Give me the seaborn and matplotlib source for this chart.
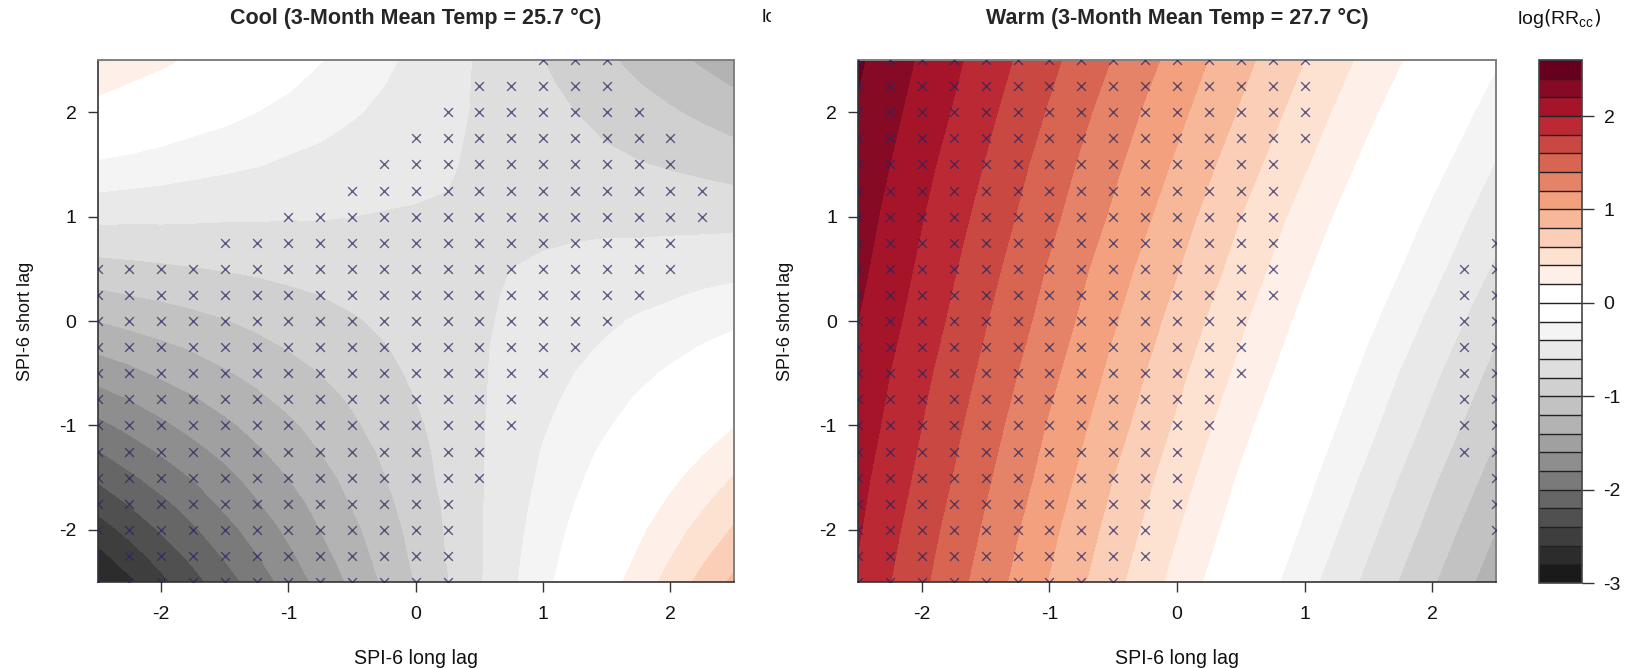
import numpy as np
import pandas as pd
import seaborn as sns
import matplotlib.pyplot as plt
from matplotlib.transforms import Bbox

# SPI-6 axes of the two value tables
cool_axis = [-2.5,-2.25,-2,-1.75,-1.5,-1.25,-1,-0.75,-0.5,-0.25,0,0.25,0.5,0.75,1,1.25,1.5,1.75,2,2.25,2.5]
warm_axis = [-2.5,-2,-1.5,-1,-0.5,0,0.5,1,1.5,2,2.5]

# log(RRcc), rows go from short lag -2.5 up to 2.5
cool_values = [
	[-2.82,-2.64,-2.45,-2.27,-2.09,-1.91,-1.72,-1.54,-1.36,-1.17,-.99,-.81,-.62,-.44,-.26,-.08,.11,.29,.47,.66,.84],
	[-2.66,-2.49,-2.32,-2.15,-1.98,-1.81,-1.64,-1.47,-1.30,-1.13,-.96,-.79,-.62,-.45,-.29,-.12,.05,.22,.39,.56,.73],
	[-2.50,-2.34,-2.18,-2.03,-1.87,-1.72,-1.56,-1.40,-1.25,-1.09,-.94,-.78,-.62,-.47,-.31,-.16,0,.16,.31,.47,.62],
	[-2.33,-2.19,-2.05,-1.91,-1.76,-1.62,-1.48,-1.34,-1.19,-1.05,-.91,-.77,-.62,-.48,-.34,-.20,-.05,.09,.23,.37,.52],
	[-2.17,-2.04,-1.91,-1.79,-1.66,-1.53,-1.40,-1.27,-1.14,-1.01,-.88,-.75,-.62,-.49,-.37,-.24,-.11,.02,.15,.28,.41],
	[-2.01,-1.89,-1.78,-1.66,-1.55,-1.43,-1.32,-1.20,-1.09,-.97,-.86,-.74,-.62,-.51,-.39,-.28,-.16,-.05,.07,.18,.30],
	[-1.85,-1.75,-1.64,-1.54,-1.44,-1.34,-1.24,-1.13,-1.03,-.93,-.83,-.73,-.62,-.52,-.42,-.32,-.22,-.11,-.01,.09,.19],
	[-1.69,-1.60,-1.51,-1.42,-1.33,-1.24,-1.15,-1.07,-.98,-.89,-.80,-.71,-.62,-.54,-.45,-.36,-.27,-.18,-.09,0,.08],
	[-1.52,-1.45,-1.37,-1.30,-1.22,-1.15,-1.07,-1.00,-.92,-.85,-.77,-.70,-.62,-.55,-.47,-.40,-.32,-.25,-.17,-.10,-.02],
	[-1.36,-1.30,-1.24,-1.18,-1.12,-1.05,-.99,-.93,-.87,-.81,-.75,-.69,-.62,-.56,-.50,-.44,-.38,-.32,-.26,-.19,-.13],
	[-1.20,-1.15,-1.10,-1.06,-1.01,-.96,-.91,-.86,-.82,-.77,-.72,-.67,-.62,-.58,-.53,-.48,-.43,-.38,-.34,-.29,-.24],
	[-1.04,-1.00,-.97,-.93,-.90,-.87,-.83,-.80,-.76,-.73,-.69,-.66,-.62,-.59,-.56,-.52,-.49,-.45,-.42,-.38,-.35],
	[-.88,-.85,-.83,-.81,-.79,-.77,-.75,-.73,-.71,-.69,-.67,-.65,-.62,-.60,-.58,-.56,-.54,-.52,-.50,-.48,-.46],
	[-.71,-.71,-.70,-.69,-.68,-.68,-.67,-.66,-.65,-.65,-.64,-.63,-.62,-.62,-.61,-.60,-.59,-.59,-.58,-.57,-.56],
	[-.55,-.56,-.56,-.57,-.58,-.58,-.59,-.59,-.60,-.61,-.61,-.62,-.62,-.63,-.64,-.64,-.65,-.65,-.66,-.67,-.67],
	[-.39,-.41,-.43,-.45,-.47,-.49,-.51,-.53,-.55,-.57,-.59,-.60,-.62,-.64,-.66,-.68,-.70,-.72,-.74,-.76,-.78],
	[-.23,-.26,-.29,-.33,-.36,-.39,-.43,-.46,-.49,-.52,-.56,-.59,-.62,-.66,-.69,-.72,-.76,-.79,-.82,-.85,-.89],
	[-.07,-.11,-.16,-.21,-.25,-.30,-.35,-.39,-.44,-.48,-.53,-.58,-.62,-.67,-.72,-.76,-.81,-.86,-.90,-.95,-1.00],
	[.10,.04,-.02,-.08,-.14,-.20,-.26,-.32,-.38,-.44,-.50,-.56,-.62,-.68,-.74,-.80,-.86,-.92,-.98,-1.04,-1.10],
	[.26,.18,.11,.04,-.04,-.11,-.18,-.26,-.33,-.40,-.48,-.55,-.62,-.70,-.77,-.84,-.92,-.99,-1.06,-1.14,-1.21],
	[.42,.33,.25,.16,.07,-.02,-.10,-.19,-.28,-.36,-.45,-.54,-.62,-.71,-.80,-.89,-.97,-1.06,-1.15,-1.23,-1.32],
]
warm_values = [
	[1.97,1.64,1.31,.99,.66,.33,0,-.33,-.65,-.98,-1.31],
	[2.02,1.69,1.37,1.05,.73,.41,.09,-.23,-.55,-.87,-1.20],
	[2.06,1.75,1.43,1.12,.80,.49,.17,-.14,-.45,-.77,-1.08],
	[2.11,1.80,1.49,1.18,.88,.57,.26,-.05,-.35,-.66,-.97],
	[2.15,1.85,1.55,1.25,.95,.65,.35,.05,-.26,-.56,-.86],
	[2.20,1.91,1.61,1.32,1.02,.73,.43,.14,-.16,-.45,-.75],
	[2.25,1.96,1.67,1.38,1.09,.81,.52,.23,-.06,-.34,-.63],
	[2.29,2.01,1.73,1.45,1.17,.89,.60,.32,.04,-.24,-.52],
	[2.34,2.06,1.79,1.51,1.24,.97,.69,.42,.14,-.13,-.41],
	[2.38,2.12,1.85,1.58,1.31,1.05,.78,.51,.24,-.03,-.29],
	[2.43,2.17,1.91,1.65,1.39,1.13,.86,.60,.34,.08,-.18],
]

# significant cells: for each short lag, first and last long lag that are marked
sig_short = [-2.5,-2.25,-2,-1.75,-1.5,-1.25,-1,-0.75,-0.5,-0.25,0,0.25,0.5,0.75,1,1.25,1.5,1.75,2,2.25,2.5]
cool_first = [-2.5,-2.5,-2.5,-2.5,-2.5,-2.5,-2.5,-2.5,-2.5,-2.5,-2.5,-2.5,-2.5,-1.5,-1,-0.5,-0.25,0,0.25,0.5,1]
cool_last = [0.25,0.25,0.25,0.25,0.5,0.5,0.75,0.75,1,1.25,1.5,1.75,2,2,2.25,2.25,2,2,1.75,1.5,1.5]
warm_last = [-0.5,-0.25,-0.25,0,0,0,0.25,0.25,0.5,0.5,0.5,0.75,0.75,0.75,0.75,0.75,0.75,1,1,1,1]
# small block at the right of the warm panel
warm_right_x = [2.25,2.5]
warm_right_low = [-1.25,-2]
warm_right_high = [0.5,0.75]

titles = ['Cool (3-Month Mean Temp = 25.7 °C)','Warm (3-Month Mean Temp = 27.7 °C)']
ticks = [-2,-1,0,1,2]
cbar_ticks = [-3,-2,-1,0,1,2]

sns.set_theme(style='ticks')
plt.rcParams['font.family'] = ['Liberation Sans','DejaVu Sans']
plt.rcParams['axes.unicode_minus'] = False
plt.rcParams['mathtext.default'] = 'regular'

levels = np.round(np.arange(-3,2.7,0.2),1)
reds = sns.blend_palette(['#67001f','#b2182b','#d6604d','#f4a582','#fddbc7','#ffffff'],13)
greys = sns.blend_palette(['#ffffff','#e0e0e0','#bababa','#878787','#4d4d4d','#1a1a1a'],15)
band_colors = list(greys[::-1])+list(reds[::-1])

W,H = 1628,668
def px_axes(x0,x1,y0,y1):
	return fig.add_axes([x0/W,(H-y1)/H,(x1-x0)/W,(y1-y0)/H])

def marks(first,last):
	xs,ys = [],[]
	for s,a,b in zip(sig_short,first,last):
		for x in cool_axis:
			if a<=x<=b:
				xs.append(x)
				ys.append(s)
	return xs,ys

cool_x,cool_y = marks(cool_first,cool_last)
warm_x,warm_y = marks([-2.5]*len(sig_short),warm_last)
for x,low,high in zip(warm_right_x,warm_right_low,warm_right_high):
	for s in sig_short:
		if low<=s<=high:
			warm_x.append(x)
			warm_y.append(s)

fig = plt.figure(figsize=(W/100,H/100),dpi=100)
ax1 = px_axes(97.5,734,60,582)
ax2 = px_axes(858,1496,60,582)
cax = px_axes(1539,1582,60,583)

panels = [(ax1,cool_axis,cool_values,cool_x,cool_y),(ax2,warm_axis,warm_values,warm_x,warm_y)]
for n,(ax,grid,vals,mx,my) in enumerate(panels):
	cs = ax.contourf(grid,grid,np.array(vals),levels=levels,colors=band_colors)
	pts = pd.DataFrame({'long':mx,'short':my})
	sns.scatterplot(x='long',y='short',data=pts,marker='x',s=40,linewidth=1,color='#26265f',alpha=0.72,ax=ax,legend=False,zorder=3)
	ax.set_xlim(-2.5,2.5)
	ax.set_ylim(-2.5,2.5)
	ax.set_xticks(ticks)
	ax.set_yticks(ticks)
	ax.tick_params(axis='x',length=7.2,width=1,color='#333333',labelsize=14,pad=10,labelcolor='#111111')
	ax.tick_params(axis='y',length=7.2,width=1,color='#333333',labelsize=14,pad=8,labelcolor='#111111')
	ax.set_xlabel('SPI-6 long lag',fontsize=14.1,va='center',color='#111111')
	ax.set_ylabel('SPI-6 short lag',fontsize=13,va='center',color='#111111')
	ax.xaxis.set_label_coords(0.5,-(658-582)/522)
	ax.yaxis.set_label_coords(-72/637,0.5)
	ax.set_title(titles[n],fontsize=15.5,fontweight='bold',y=(582-18)/522,va='center',pad=0)
	for side in ['left','bottom']:
		ax.spines[side].set_color('#333333')
		ax.spines[side].set_linewidth(1.2)
	for side in ['top','right']:
		ax.spines[side].set_color('#808080')
		ax.spines[side].set_linewidth(1.4)

cb = fig.colorbar(cs,cax=cax,ticks=cbar_ticks,drawedges=True)
cb.dividers.set_color('#222222')
cb.dividers.set_linewidth(1)
cb.outline.set_edgecolor('#444444')
cb.outline.set_linewidth(1.2)
cax.tick_params(length=8.5,width=1,color='#333333',labelsize=14,pad=7,labelcolor='#111111')

fig.text(1559/W,1-18/H,r'log$\left(RR_{cc}\right)$',fontsize=14,ha='center',va='center',color='#111111')
# the neighbouring panel cuts this label off in the original
cut = fig.text(762/W,1-18/H,'log',fontsize=14,ha='left',va='center',color='#111111',clip_on=True)
cut.set_clip_box(Bbox([[0,0],[771,H]]))

plt.savefig('out.png',dpi=100)
plt.close()
